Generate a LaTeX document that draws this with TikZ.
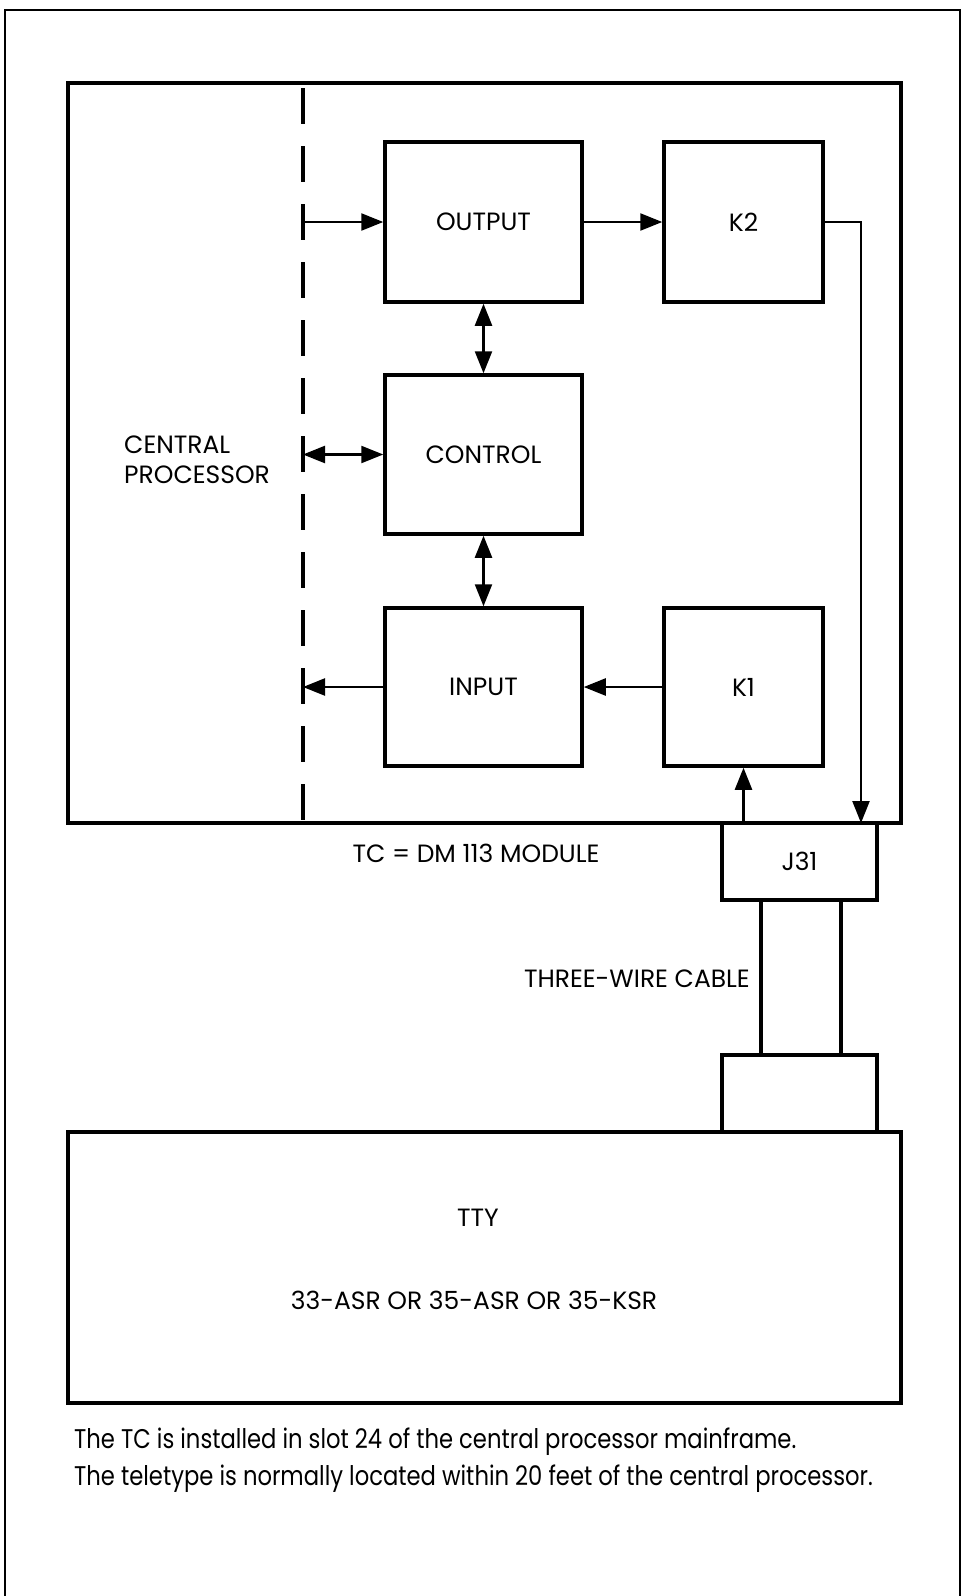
\documentclass[tikz,border=0pt]{standalone}
\usepackage{fontspec}
\setmainfont{Poppins}
\newfontfamily\notefont[FakeStretch=0.84]{Poppins}
\usetikzlibrary{arrows.meta, calc, positioning}

\tikzset{
  blk/.style={draw, line width=3.5pt, inner sep=0pt, font=\fontsize{25}{30}\selectfont},
  arr/.style={line width=2.4pt, -{Triangle[length=22pt, width=17pt]}},
  darr/.style={line width=2.4pt, {Triangle[length=22pt, width=17pt]}-{Triangle[length=22pt, width=17pt]}},
  cutline/.style={line width=3.5pt, dash pattern=on 36pt off 22pt, dash phase=53pt},
  lbl/.style={font=\fontsize{25}{30}\selectfont, inner sep=0pt},
  note/.style={font=\notefont\fontsize{27}{32}\selectfont, inner sep=0pt, anchor=west}
}

\begin{document}
\begin{tikzpicture}[x=1pt, y=-1pt]
      \useasboundingbox (0,0) rectangle (965,1596);

      % --- Rahmen der Seite (unten offen) ---
      \draw[line width=1.8pt] (5,1596) -- (5,10) -- (960,10) -- (960,1596);

      % --- Zentralprozessor mit TC-Modul ---
      \draw[line width=3.5pt] (68,83) rectangle (901,823);
      \coordinate (cpT) at (303,83);
      \coordinate (cpB) at (303,823);
      \draw[cutline] (cpT) -- (cpB);
      \node[lbl, align=left, anchor=west] (cpu) at (124,460) {CENTRAL\\PROCESSOR};

      % Bausteine
      \node[blk, minimum width=197pt, minimum height=160pt] (output) at (483.5,222) {OUTPUT};
      \node[blk, minimum width=159pt, minimum height=160pt] (k2) at (743.5,222) {K2};
      \node[blk, minimum width=197pt, minimum height=159pt] (control) at (483.5,454.5) {CONTROL};
      \node[blk, minimum width=197pt, minimum height=158pt] (input) at (483.5,687) {INPUT};
      \node[blk, minimum width=159pt, minimum height=158pt] (k1) at (743.5,687) {K1};

      % Stecker und Kabel
      \node[blk, minimum width=155pt, minimum height=77pt] (j31) at (799.5,861.5) {J31};
      \node[blk, minimum width=155pt, minimum height=77pt] (plug) at (799.5,1093.5) {};
      \draw[line width=3.5pt] (j31.south -| 761,0) -- (plug.north -| 761,0);
      \draw[line width=3.5pt] (j31.south -| 841,0) -- (plug.north -| 841,0);
      \node[lbl, anchor=east] (cable) at (750,979) {THREE-WIRE CABLE};
      \node[lbl] (tc) at (476,853) {TC = DM 113 MODULE};

      % Fernschreiber
      \node[blk, minimum width=833pt, minimum height=271pt] (tty) at (484.5,1267.5) {};
      \node[lbl] (ttyname) at (478,1218) {TTY};
      \node[lbl] (ttytype) at (474,1300) {33-ASR OR 35-ASR OR 35-KSR};

      % --- Signalwege ---
      \draw[arr] (output.west -| cpT) -- (output.west);
      \draw[arr] (output.east) -- (k2.west);
      \coordinate (drop) at (861,823);
      \draw[arr] (k2.east) -| (drop);
      \draw[darr] (output.south) -- (control.north);
      \draw[darr] (control.west -| cpT) -- (control.west);
      \draw[darr] (control.south) -- (input.north);
      \draw[arr] (input.west) -- (input.west -| cpT);
      \draw[arr] (k1.west) -- (input.east);
      \draw[arr] (j31.north -| k1.south) -- (k1.south);

      % --- Hinweise ---
      \node[note] (note1) at (74,1442) {The TC is installed in slot 24 of the central processor mainframe.};
      \node[note] (note2) at (74,1479) {The teletype is normally located within 20 feet of the central processor.};
\end{tikzpicture}
\end{document}
